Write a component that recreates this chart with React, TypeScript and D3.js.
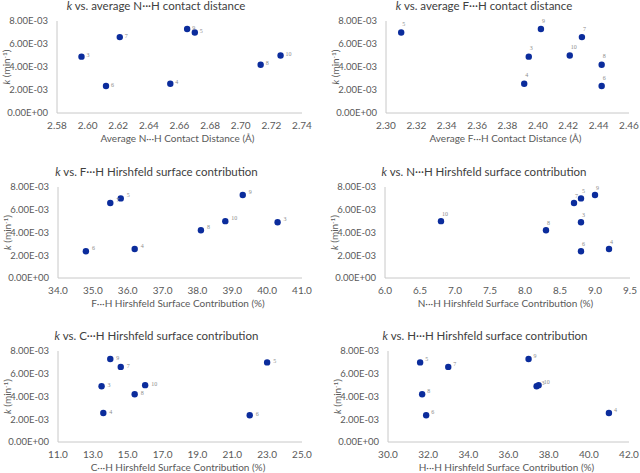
import React from 'react';
import * as d3 from 'd3';

// compounds 3-10, rate constants and the six descriptors
const compounds = ['3', '4', '5', '6', '7', '8', '9', '10'];
const kValues = [4.9e-3, 2.55e-3, 7.0e-3, 2.35e-3, 6.6e-3, 4.2e-3, 7.3e-3, 5.0e-3];
const nhDistance = [2.596, 2.654, 2.670, 2.612, 2.621, 2.713, 2.665, 2.726];
const fhDistance = [2.394, 2.391, 2.310, 2.442, 2.429, 2.442, 2.402, 2.421];
const fhContribution = [40.3, 36.2, 35.8, 34.8, 35.5, 38.1, 39.3, 38.8];
const nhContribution = [8.8, 9.2, 8.8, 8.8, 8.7, 8.3, 9.0, 6.8];
const chContribution = [13.5, 13.6, 23.0, 22.0, 14.6, 15.4, 14.0, 16.0];
const hhContribution = [37.4, 41.0, 31.6, 31.9, 33.0, 31.7, 37.0, 37.5];

const yTicks = [0, 2e-3, 4e-3, 6e-3, 8e-3];

const COLORS = {
    dot: '#0b2c9c',
    axis: '#c8c8c8',
    text: '#595959',
    title: '#404040',
    label: '#8c8c8c',
};

const FONT = "Lato, 'Liberation Sans', sans-serif";

const panels = [
    {
        title: 'vs. average N···H contact distance', xTitle: 'Average N···H Contact Distance (Å)',
        xs: nhDistance, domain: [2.58, 2.74], step: 0.02, fmt: '.2f',
        box: { l: 57, r: 302, t: 21, b: 113 }, lab: [5, 0],
    },
    {
        title: 'vs. average F···H contact distance', xTitle: 'Average F···H Contact Distance (Å)',
        xs: fhDistance, domain: [2.30, 2.46], step: 0.02, fmt: '.2f',
        box: { l: 386, r: 629, t: 21, b: 113 }, lab: [1, -7],
    },
    {
        title: 'vs. F···H Hirshfeld surface contribution', xTitle: 'F···H Hirshfeld Surface Contribution (%)',
        xs: fhContribution, domain: [34, 41], step: 1, fmt: '.1f',
        box: { l: 58, r: 302, t: 187, b: 278 }, lab: [6, -2],
    },
    {
        title: 'vs. N···H Hirshfeld surface contribution', xTitle: 'N···H Hirshfeld Surface Contribution (%)',
        xs: nhContribution, domain: [6, 9.5], step: 0.5, fmt: '.1f',
        box: { l: 385, r: 630, t: 187, b: 278 }, lab: [1, -6],
    },
    {
        title: 'vs. C···H Hirshfeld surface contribution', xTitle: 'C···H Hirshfeld Surface Contribution (%)',
        xs: chContribution, domain: [11, 25], step: 2, fmt: '.1f',
        box: { l: 58, r: 302, t: 351, b: 442 }, lab: [6, 0],
    },
    {
        title: 'vs. H···H Hirshfeld surface contribution', xTitle: 'H···H Hirshfeld Surface Contribution (%)',
        xs: hhContribution, domain: [30, 42], step: 2, fmt: '.1f',
        box: { l: 388, r: 629, t: 351, b: 442 }, lab: [5, -2],
    },
];

// Excel-style scientific: 8.00E-03
function sci(v: number) {
    if (v === 0) return '0.00E+00';
    const e = Math.floor(Math.log10(Math.abs(v)) + 1e-9);
    const m = v / Math.pow(10, e);
    const sign = e < 0 ? '-' : '+';
    return `${m.toFixed(2)}E${sign}${String(Math.abs(e)).padStart(2, '0')}`;
}

function Panel({ p }: { p: typeof panels[number] }) {
    const { box } = p;
    const x = d3.scaleLinear().domain(p.domain).range([box.l, box.r]);
    const y = d3.scaleLinear().domain([0, 8e-3]).range([box.b, box.t]);
    const xTicks = d3.range(p.domain[0], p.domain[1] + p.step / 2, p.step);
    const fmt = d3.format(p.fmt);
    // chart title is centred on the whole chart area, axis title on the plot
    const titleX = (box.l - 57 + box.r + 10) / 2;
    const plotX = (box.l + box.r) / 2 - 2;

    return (
        <g>
            <text x={titleX} y={box.t - 11} textAnchor="middle" fontSize={11.5} fill={COLORS.title} fontFamily={FONT}>
                <tspan fontStyle="italic">k</tspan> {p.title}
            </text>

            {/* axes */}
            <line x1={box.l} x2={box.l} y1={box.t} y2={box.b} stroke={COLORS.axis} strokeWidth={1} />
            <line x1={box.l} x2={box.r} y1={box.b} y2={box.b} stroke={COLORS.axis} strokeWidth={1} />

            {yTicks.map(t => (
                <text key={t} x={box.l - 9} y={y(t)} dy="0.35em" textAnchor="end"
                    fontSize={9.5} fill={COLORS.text} fontFamily={FONT}>{sci(t)}</text>
            ))}
            {xTicks.map(t => (
                <text key={t} x={x(t)} y={box.b + 16} textAnchor="middle"
                    fontSize={10} fill={COLORS.text} fontFamily={FONT}>{fmt(t)}</text>
            ))}

            <text x={plotX} y={box.b + 29} textAnchor="middle" fontSize={10} fill={COLORS.text} fontFamily={FONT}>
                {p.xTitle}
            </text>
            <text transform={`translate(${box.l - 47},${(box.t + box.b) / 2}) rotate(-90)`}
                textAnchor="middle" fontSize={10} fill={COLORS.text} fontFamily={FONT}>
                <tspan fontStyle="italic">k</tspan> (min<tspan fontSize={6.5} dy={-3.5}>-1</tspan><tspan dy={3.5}>)</tspan>
            </text>

            {compounds.map((c, i) => (
                <g key={c}>
                    <circle cx={x(p.xs[i])} cy={y(kValues[i])} r={3.2} fill={COLORS.dot} />
                    <text x={x(p.xs[i]) + p.lab[0]} y={y(kValues[i]) + p.lab[1]} dy="0.1em"
                        fontSize={6} fill={COLORS.label} fontFamily="'Liberation Serif', serif">{c}</text>
                </g>
            ))}
        </g>
    );
}

export default function App() {
    return (
        <svg width={640} height={473} style={{ position: 'absolute', left: 0, top: 0, background: '#fff' }}>
            {panels.map((p, i) => <Panel key={i} p={p} />)}
        </svg>
    );
}
